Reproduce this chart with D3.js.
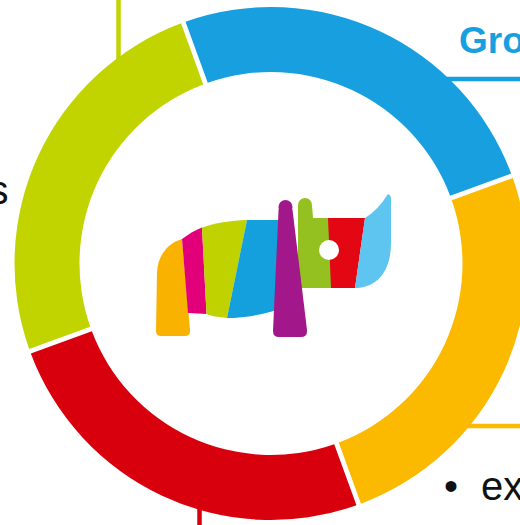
<!DOCTYPE html>
<html>
<head>
<meta charset="utf-8">
<script src="https://cdn.jsdelivr.net/npm/d3@7"></script>
<style>
  body { margin: 0; background: #fff; overflow: hidden; }
  svg { display: block; }
</style>
</head>
<body>
<script>
// donut data : four equal parts, first one starts a little before noon
const segments = ["Bleu", "Jaune", "Rouge", "Vert"];
const shares = [25, 25, 25, 25];
const ringColors = ["#179fdf", "#fbb900", "#d9000e", "#c2d400"];

const width = 520;
const height = 525;
const cx = 271, cy = 263.5;
const outerR = 256.5, innerR = 191.5;

const svg = d3.select("body").append("svg")
    .attr("width", width)
    .attr("height", height);

// connector lines behind the ring
const connectors = [
    {x1: 118.5, y1: 0, x2: 118.5, y2: 80, c: ringColors[3]},
    {x1: 440, y1: 79, x2: 520, y2: 79, c: ringColors[0]},
    {x1: 460, y1: 426, x2: 520, y2: 426, c: ringColors[1]},
    {x1: 199.5, y1: 495, x2: 199.5, y2: 525, c: ringColors[2]}
];
svg.selectAll(".conn")
    .data(connectors)
    .enter().append("line")
    .attr("class", "conn")
    .attr("x1", d => d.x1).attr("y1", d => d.y1)
    .attr("x2", d => d.x2).attr("y2", d => d.y2)
    .attr("stroke", d => d.c)
    .attr("stroke-width", 4.5);

const g = svg.append("g")
    .attr("transform", "translate(" + cx + "," + cy + ")");

const start = -20 * Math.PI / 180;
const pie = d3.pie()
    .sort(null)
    .startAngle(start)
    .endAngle(start + 2 * Math.PI)
    .padAngle(0.015)
    .value(d => d);

const arc = d3.arc()
    .innerRadius(innerR)
    .outerRadius(outerR);

g.selectAll(".slice")
    .data(pie(shares))
    .enter().append("path")
    .attr("class", "slice")
    .attr("d", arc)
    .attr("fill", (d, i) => ringColors[i])
    .append("title")
    .text((d, i) => segments[i] + " : " + d.data + "%");

// rhino logo in the middle
const logo = svg.append("g").attr("class", "logo");
const rhino = [
    ["#f9b200", "M182,239 L190,330 Q190.5,336 185,336 L161,336 Q156,336 156,331 L157,272 C158,255 168,243 182,239 Z"],
    ["#e2007a", "M182,239 C189,234 195,230 202,227.5 L206.5,314 L188,313 Z"],
    ["#c0d200", "M202,227.5 C215,223 230,220.5 247,220 L227,318 C218,317 211,316 206.5,314 Z"],
    ["#149fdd", "M247,220 L286,220 L286,307 C266,314 246,318 227,318 Z"],
    ["#94c11f", "M298,205 L312,205 L313,218 L330,218 L332,288 L298,288 Z"],
    ["#e30613", "M328,218 L365,218 L355,288 L331,288 Z"],
    ["#5ec4f0", "M365,218 Q378,210 388,194 Q391,195 391,199 L391,243 C391,268 380,286 358,288 L355,288 Z"]
];
logo.selectAll(".part")
    .data(rhino)
    .enter().append("path")
    .attr("class", "part")
    .attr("d", d => d[1])
    .attr("fill", d => d[0]);
logo.append("circle").attr("cx", 305).attr("cy", 205).attr("r", 7).attr("fill", "#94c11f");
// front leg on top
logo.append("circle").attr("cx", 285.5).attr("cy", 207).attr("r", 7).attr("fill", "#a2188a");
logo.append("path")
    .attr("d", "M278.6,209 L292.4,209 L307,330 Q307.5,337 301,337 L279,337 Q273,337 273,331 Z")
    .attr("fill", "#a2188a");
logo.append("circle").attr("cx", 329).attr("cy", 250).attr("r", 10).attr("fill", "#fff");

// cut-off slide text around the ring
const font = "'Liberation Sans', Arial, sans-serif";
svg.append("text")
    .attr("x", 459).attr("y", 53)
    .attr("font-family", font).attr("font-weight", "bold")
    .attr("font-size", 37).attr("fill", ringColors[0])
    .text("Gro");
svg.append("text")
    .attr("x", 8.5).attr("y", 204)
    .attr("text-anchor", "end")
    .attr("font-family", font).attr("font-size", 40).attr("fill", "#111")
    .text("s");
svg.append("text")
    .attr("x", 444).attr("y", 500)
    .attr("font-family", font).attr("font-size", 40).attr("fill", "#111")
    .text("•");
svg.append("text")
    .attr("x", 481).attr("y", 500)
    .attr("font-family", font).attr("font-size", 40).attr("fill", "#111")
    .text("ex");
</script>
</body>
</html>
